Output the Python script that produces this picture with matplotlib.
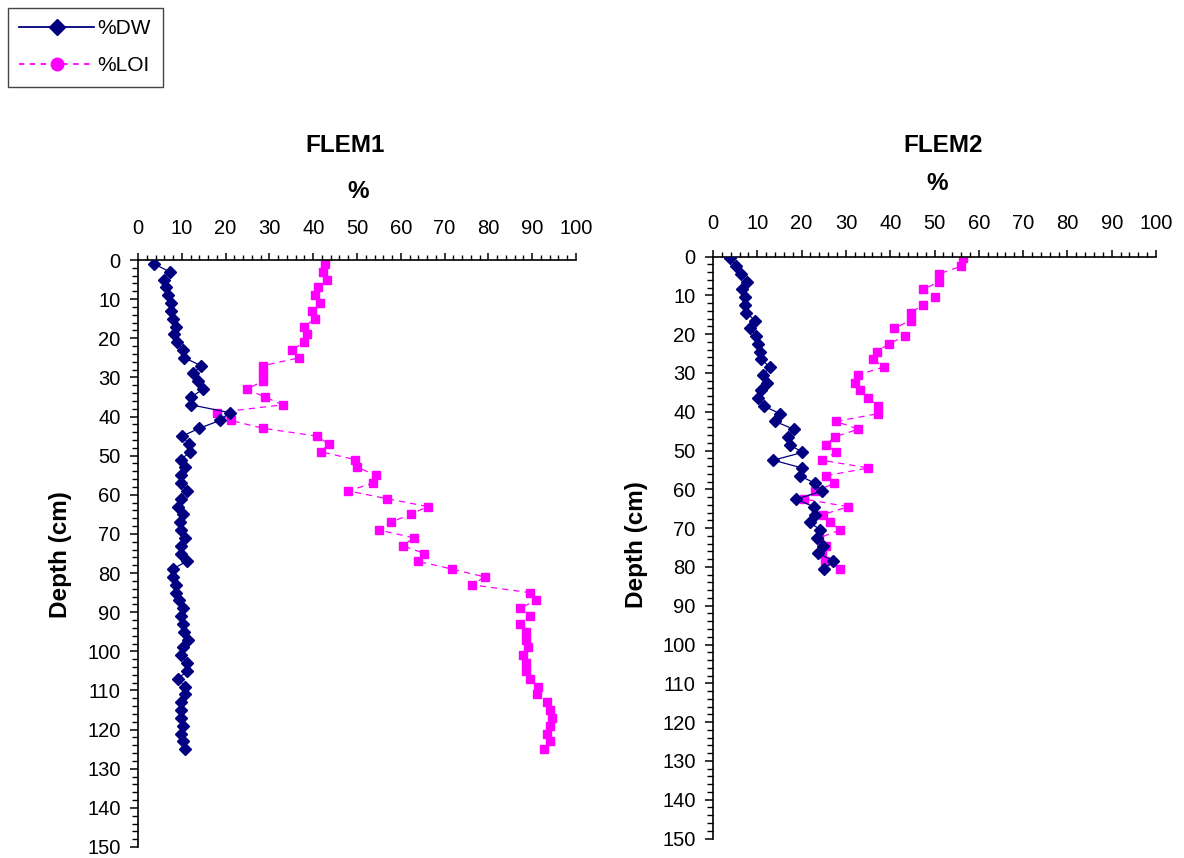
import numpy as np
import matplotlib
matplotlib.use("Agg")
import matplotlib.pyplot as plt
from matplotlib.lines import Line2D
from matplotlib.ticker import MultipleLocator

plt.rcParams['font.family'] = ['Liberation Sans', 'DejaVu Sans']

# core FLEM1, 2 cm slices
flem1_depth = [1, 3, 5, 7, 9, 11, 13, 15, 17, 19, 21, 23, 25, 27, 29, 31, 33, 35, 37, 39,
               41, 43, 45, 47, 49, 51, 53, 55, 57, 59, 61, 63, 65, 67, 69, 71, 73, 75, 77, 79,
               81, 83, 85, 87, 89, 91, 93, 95, 97, 99, 101, 103, 105, 107, 109, 111, 113, 115,
               117, 119, 121, 123, 125]
flem1_dw = [3.7, 7.2, 6.0, 6.5, 6.9, 7.5, 7.5, 8.1, 8.7, 8.2, 8.8, 10.2, 10.6, 14.4, 12.5,
            13.8, 14.9, 12.1, 12.1, 20.9, 18.7, 14.0, 10.1, 11.7, 11.9, 9.8, 10.7, 9.8, 9.8,
            11.1, 9.8, 9.1, 10.2, 9.6, 9.8, 10.7, 9.8, 9.8, 11.1, 7.9, 7.9, 8.7, 8.7, 9.4,
            10.2, 9.8, 10.2, 10.6, 11.5, 10.2, 9.8, 11.3, 11.3, 9.1, 10.7, 10.7, 9.8, 9.8,
            9.8, 10.2, 9.8, 10.2, 10.7]
flem1_loi = [42.7, 42.3, 43.1, 41.2, 40.4, 41.6, 39.7, 40.4, 38.0, 38.5, 38.0, 35.1, 36.8,
             28.5, 28.5, 28.5, 24.8, 29.0, 33.0, 18.1, 21.2, 28.5, 40.8, 43.5, 41.8, 49.5,
             50.1, 54.3, 53.7, 48.0, 56.9, 66.1, 62.3, 57.7, 55.0, 63.0, 60.4, 65.4, 63.9,
             71.8, 79.2, 76.2, 89.5, 90.8, 87.2, 89.5, 87.2, 88.5, 88.5, 89.1, 88.0, 88.5,
             88.5, 89.5, 91.4, 91.0, 93.3, 94.1, 94.6, 94.1, 93.3, 94.1, 92.7]

# core FLEM2
flem2_depth = [0.5, 2.5, 4.5, 6.5, 8.5, 10.5, 12.5, 14.5, 16.5, 18.5, 20.5, 22.5, 24.5,
               26.5, 28.5, 30.5, 32.5, 34.5, 36.5, 38.5, 40.5, 42.5, 44.5, 46.5, 48.5, 50.5,
               52.5, 54.5, 56.5, 58.5, 60.5, 62.5, 64.5, 66.5, 68.5, 70.5, 72.5, 74.5, 76.5,
               78.5, 80.5]
flem2_dw = [3.8, 5.3, 6.3, 7.6, 6.6, 7.2, 7.2, 7.5, 9.5, 8.3, 9.8, 10.2, 10.6, 10.9, 12.8,
            11.3, 12.1, 10.9, 10.2, 11.4, 15.1, 14.0, 18.2, 17.0, 17.3, 20.2, 13.6, 20.1,
            19.6, 23.1, 24.6, 18.8, 22.7, 23.1, 21.9, 24.2, 23.5, 24.9, 23.8, 27.2, 25.0]
flem2_loi = [56.4, 56.0, 51.0, 51.0, 47.5, 50.0, 47.4, 44.6, 44.6, 40.9, 43.4, 39.7, 37.0,
             36.2, 38.5, 32.8, 32.1, 33.2, 35.1, 37.3, 37.3, 27.8, 32.8, 27.5, 25.5, 27.8,
             24.5, 35.1, 25.5, 27.4, 23.0, 20.6, 30.5, 24.9, 26.4, 28.7, 24.0, 25.5, 24.5,
             25.3, 28.7]

x_ticks = [0, 10, 20, 30, 40, 50, 60, 70, 80, 90, 100]
y_ticks = [0, 10, 20, 30, 40, 50, 60, 70, 80, 90, 100, 110, 120, 130, 140, 150]

DW_COLOR = '#000080'
LOI_COLOR = '#FF00FF'

W, H = 1184, 858
fig = plt.figure(figsize=(W / 100, H / 100), dpi=100)


def px(x, y):
    return x / W, 1 - y / H


def make_panel(rect, depth, dw, loi, name, title_xy, pct_xy, depth_xy, xpad):
    left, top, right, bottom = rect
    ax = fig.add_axes([left / W, 1 - bottom / H, (right - left) / W, (bottom - top) / H])
    ax.plot(dw, depth, color=DW_COLOR, lw=0.9, marker='D', ms=6.5, mec=DW_COLOR,
            mfc=DW_COLOR, zorder=3)
    ln, = ax.plot(loi, depth, color=LOI_COLOR, lw=0.9, marker='s', ms=5.5, mec=LOI_COLOR,
                  mfc=LOI_COLOR, zorder=2)
    ln.set_dashes([5, 4])

    ax.set_xlim(0, 100)
    ax.set_ylim(150, 0)
    ax.xaxis.set_ticks_position('top')
    ax.xaxis.set_label_position('top')
    ax.set_xticks(x_ticks)
    ax.set_yticks(y_ticks)
    ax.xaxis.set_minor_locator(MultipleLocator(2))
    ax.yaxis.set_minor_locator(MultipleLocator(2))
    ax.tick_params(axis='x', which='major', direction='out', length=5, width=1.1,
                   pad=xpad, labelsize=14.5)
    ax.tick_params(axis='x', which='minor', direction='out', length=3.5, width=1.0)
    ax.tick_params(axis='y', which='major', direction='out', length=5.5, width=1.1,
                   pad=7, labelsize=14.5)
    ax.tick_params(axis='y', which='minor', direction='out', length=4, width=1.0)
    for side in ('right', 'bottom'):
        ax.spines[side].set_visible(False)
    for side in ('left', 'top'):
        ax.spines[side].set_linewidth(1.2)
    ax.patch.set_alpha(0)

    fig.text(*px(*title_xy), name, ha='center', va='center', fontsize=17.5, fontweight='bold')
    fig.text(*px(*pct_xy), '%', ha='center', va='center', fontsize=17.5, fontweight='bold')
    fig.text(*px(*depth_xy), 'Depth (cm)', ha='center', va='center', rotation=90,
             fontsize=17.5, fontweight='bold')
    return ax


make_panel((138, 260, 576, 847), flem1_depth, flem1_dw, flem1_loi, 'FLEM1',
           (345, 146), (358, 191), (60, 555), 11)
make_panel((713, 256.5, 1156, 838.5), flem2_depth, flem2_dw, flem2_loi, 'FLEM2',
           (943, 146), (937, 184), (636, 545), 12)

handles = [
    Line2D([], [], color=DW_COLOR, lw=1.3, marker='D', ms=8, mfc=DW_COLOR, mec=DW_COLOR),
    Line2D([], [], color=LOI_COLOR, lw=1.3, ls=(0, (3, 3)), marker='o', ms=9,
           mfc=LOI_COLOR, mec=LOI_COLOR),
]
leg = fig.legend(handles, ['%DW', '%LOI'], loc='upper left',
                 bbox_to_anchor=px(8, 8), fontsize=15, frameon=True, fancybox=False,
                 edgecolor='#444444', framealpha=1, handlelength=3.6, handletextpad=0.15,
                 labelspacing=0.85, borderpad=0.55, borderaxespad=0)
leg.get_frame().set_linewidth(1.0)

fig.savefig('out.png', dpi=100)
